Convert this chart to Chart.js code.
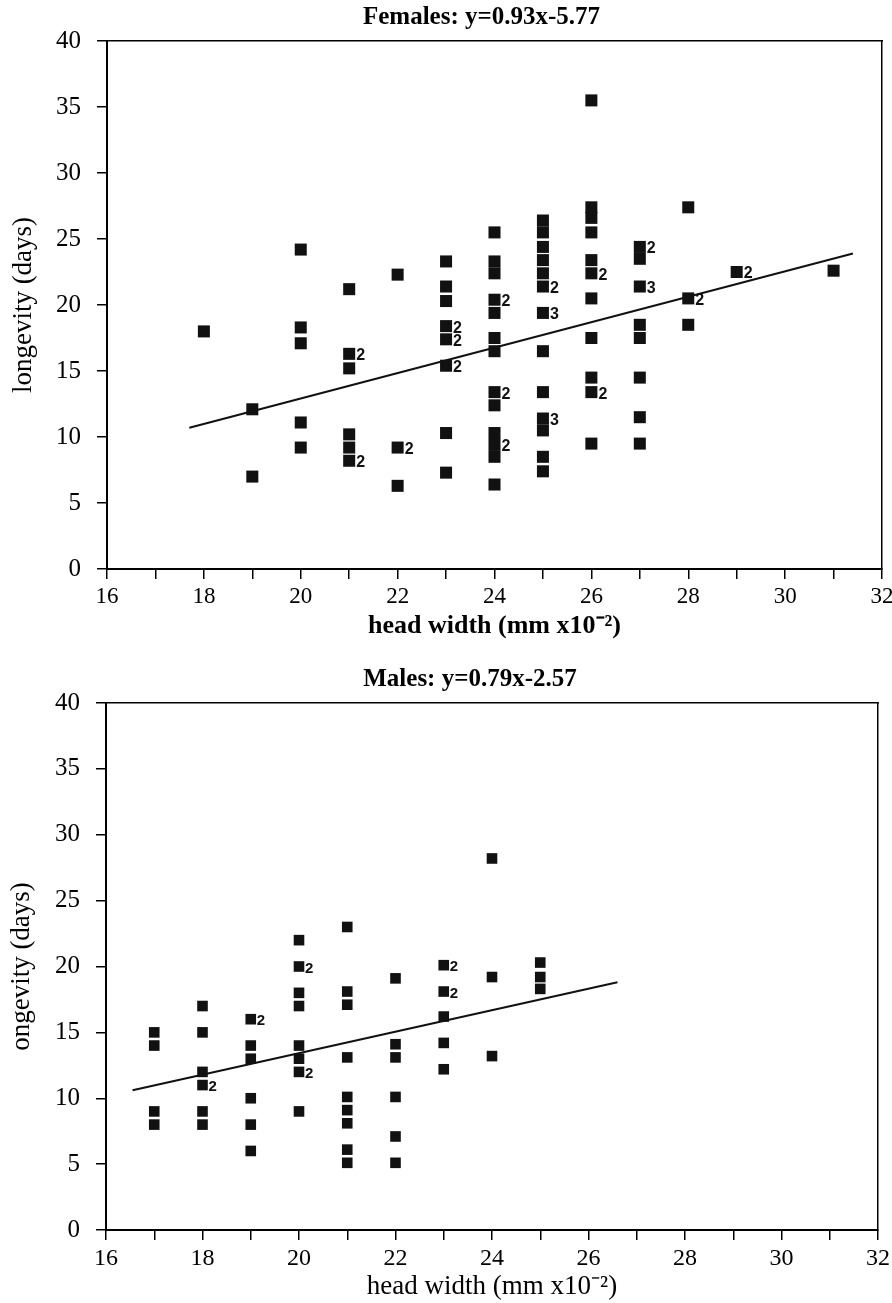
<!DOCTYPE html>
<html>
<head>
<meta charset="utf-8">
<script src="https://cdn.jsdelivr.net/npm/chart.js@4.4.1/dist/chart.umd.min.js"></script>
<style>
  html, body { margin: 0; padding: 0; background: #fff; overflow: hidden; width: 892px; height: 1303px; }
  canvas { position: absolute; left: 0; }
  #female { top: 0; }
  #male { top: 640px; }
</style>
</head>
<body>
<canvas id="female" width="963" height="650"></canvas>
<canvas id="male" width="940" height="663"></canvas>
<script>
// ---------- DATA ----------
const xTickValues = [16, 18, 20, 22, 24, 26, 28, 30, 32];
const yTickValues = [0, 5, 10, 15, 20, 25, 30, 35, 40];

const femaleTitle = 'Females: y=0.93x-5.77';
const femaleHeadWidth = [
  18,
  19, 19,
  20, 20, 20, 20, 20,
  21, 21, 21, 21, 21, 21,
  22, 22, 22,
  23, 23, 23, 23, 23, 23, 23, 23,
  24, 24, 24, 24, 24, 24, 24, 24, 24, 24, 24, 24, 24,
  25, 25, 25, 25, 25, 25, 25, 25, 25, 25, 25, 25, 25,
  26, 26, 26, 26, 26, 26, 26, 26, 26, 26, 26,
  27, 27, 27, 27, 27, 27, 27, 27,
  28, 28, 28,
  29,
  31
];
const femaleLongevity = [
  18.0,
  12.1, 7.0,
  24.2, 18.3, 17.1, 11.1, 9.2,
  21.2, 16.3, 15.2, 10.2, 9.2, 8.2,
  22.3, 9.2, 6.3,
  23.3, 21.4, 20.3, 18.4, 17.4, 15.4, 10.3, 7.3,
  25.5, 23.3, 22.4, 20.4, 19.4, 17.5, 16.5, 13.4, 12.4, 10.3, 9.4, 8.5, 6.4,
  26.4, 25.5, 24.4, 23.4, 22.4, 21.4, 19.4, 16.5, 13.4, 11.4, 10.5, 8.5, 7.4,
  35.5, 27.4, 26.6, 25.5, 23.4, 22.4, 20.5, 17.5, 14.5, 13.4, 9.5,
  24.4, 23.5, 21.4, 18.5, 17.5, 14.5, 11.5, 9.5,
  27.4, 20.5, 18.5,
  22.5,
  22.6
];
const femaleCount = [
  1,
  1, 1,
  1, 1, 1, 1, 1,
  1, 2, 1, 1, 1, 2,
  1, 2, 1,
  1, 1, 1, 2, 2, 2, 1, 1,
  1, 1, 1, 2, 1, 1, 1, 2, 1, 1, 2, 1, 1,
  1, 1, 1, 1, 1, 2, 3, 1, 1, 3, 1, 1, 1,
  1, 1, 1, 1, 1, 2, 1, 1, 1, 2, 1,
  2, 1, 3, 1, 1, 1, 1, 1,
  1, 2, 1,
  2,
  1
];
const femaleFitX = [17.7, 31.4];
const femaleFitY = [10.7, 23.9];

const maleTitle = 'Males: y=0.79x-2.57';
const maleHeadWidth = [
  17, 17, 17, 17,
  18, 18, 18, 18, 18, 18,
  19, 19, 19, 19, 19, 19,
  20, 20, 20, 20, 20, 20, 20, 20,
  21, 21, 21, 21, 21, 21, 21, 21, 21,
  22, 22, 22, 22, 22, 22,
  23, 23, 23, 23, 23,
  24, 24, 24,
  25, 25, 25
];
const maleLongevity = [
  15, 14, 9, 8,
  17, 15, 12, 11, 9, 8,
  16, 14, 13, 10, 8, 6,
  22, 20, 18, 17, 14, 13, 12, 9,
  23, 18.1, 17.1, 13.1, 10.1, 9.1, 8.1, 6.1, 5.1,
  19.1, 14.1, 13.1, 10.1, 7.1, 5.1,
  20.1, 18.1, 16.2, 14.2, 12.2,
  28.2, 19.2, 13.2,
  20.3, 19.2, 18.3
];
const maleCount = [
  1, 1, 1, 1,
  1, 1, 1, 2, 1, 1,
  2, 1, 1, 1, 1, 1,
  1, 2, 1, 1, 1, 1, 2, 1,
  1, 1, 1, 1, 1, 1, 1, 1, 1,
  1, 1, 1, 1, 1, 1,
  2, 2, 1, 1, 1,
  1, 1, 1,
  1, 1, 1
];
const maleFitX = [16.55, 26.6];
const maleFitY = [10.6, 18.8];

// ---------- BUILD ----------
const SERIF = '"Liberation Serif", "Times New Roman", serif';
const SANS = '"Liberation Sans", Arial, sans-serif';

function pts(xs, ys) { return xs.map((x, i) => ({ x: x, y: ys[i] })); }

const countLabels = {
  id: 'countLabels',
  afterDatasetsDraw(chart, args, opts) {
    const ctx = chart.ctx;
    chart.data.datasets.forEach((ds, di) => {
      if (!ds.counts) return;
      const meta = chart.getDatasetMeta(di);
      ctx.save();
      ctx.fillStyle = '#111';
      ctx.font = 'bold ' + opts.size + 'px ' + SANS;
      ctx.textAlign = 'left';
      ctx.textBaseline = 'middle';
      meta.data.forEach((el, i) => {
        const n = ds.counts[i];
        if (n > 1) ctx.fillText(String(n), el.x + opts.dx, el.y + opts.dy);
      });
      ctx.restore();
    });
  }
};

function makeChart(id, cfg) {
  const axisFont = { family: SERIF, size: cfg.tickSize };
  return new Chart(document.getElementById(id), {
    type: 'scatter',
    data: {
      datasets: [
        {
          data: pts(cfg.x, cfg.y),
          counts: cfg.n,
          pointStyle: 'rect',
          pointRadius: cfg.pointR,
          pointHoverRadius: cfg.pointR,
          backgroundColor: '#111',
          borderWidth: 0
        },
        {
          data: pts(cfg.fitX, cfg.fitY),
          showLine: true,
          pointRadius: 0,
          borderColor: '#111',
          borderWidth: 2,
          fill: false
        }
      ]
    },
    plugins: [countLabels],
    options: {
      responsive: false,
      animation: false,
      devicePixelRatio: 1,
      layout: { padding: 0 },
      plugins: {
        legend: { display: false },
        tooltip: { enabled: false },
        title: {
          display: true,
          text: cfg.title,
          color: '#000',
          font: { family: SERIF, size: 25, weight: 'bold', lineHeight: 1.2 },
          padding: { top: cfg.titleTop, bottom: cfg.titleBottom }
        },
        countLabels: { size: cfg.labelSize, dx: cfg.labelDx, dy: 2 }
      },
      scales: {
        x: {
          type: 'linear', position: 'bottom', min: 16, max: 32,
          afterFit: s => { s.height = cfg.xAxisH; },
          ticks: {
            stepSize: 1, color: '#000', font: Object.assign({}, axisFont, { size: cfg.xTickSize, weight: cfg.xTickWeight }),
            padding: 4, maxRotation: 0, autoSkip: false,
            callback: v => xTickValues.includes(v) ? String(v) : ''
          },
          grid: { display: true, drawOnChartArea: false, drawTicks: true, tickLength: 10, color: '#000', lineWidth: 1.5 },
          border: { display: true, color: '#000', width: 2 },
          title: {
            display: true, text: 'head width (mm x10\u207B\u00B2)', color: '#000',
            font: { family: SERIF, size: cfg.xTitleSize, weight: cfg.xTitleWeight, lineHeight: 1.2 },
            padding: { top: 0, bottom: cfg.xTitlePad }
          }
        },
        xTop: {
          type: 'linear', position: 'top', min: 16, max: 32,
          afterFit: s => { s.height = 0; },
          ticks: { display: false },
          grid: { display: false },
          border: { display: true, color: '#000', width: 1.5 }
        },
        y: {
          type: 'linear', position: 'left', min: 0, max: 40,
          afterFit: s => { s.width = cfg.yAxisW; },
          ticks: {
            stepSize: 5, color: '#000', font: axisFont, padding: 16,
            callback: v => yTickValues.includes(v) ? String(v) : ''
          },
          grid: { display: true, drawOnChartArea: false, drawTicks: true, tickLength: 10, color: '#000', lineWidth: 1.5 },
          border: { display: true, color: '#000', width: 2 },
          title: {
            display: true, text: cfg.yTitle, color: '#000',
            font: { family: SERIF, size: 27, lineHeight: 1.2 },
            padding: { top: cfg.yTitlePad, bottom: 0 }
          }
        },
        yRight: {
          type: 'linear', position: 'right', min: 0, max: 40,
          afterFit: s => { s.width = cfg.rightW; },
          ticks: { display: false },
          grid: { display: false },
          border: { display: true, color: '#000', width: 1.5 }
        }
      }
    }
  });
}

makeChart('female', {
  title: femaleTitle, x: femaleHeadWidth, y: femaleLongevity, n: femaleCount,
  fitX: femaleFitX, fitY: femaleFitY,
  titleTop: 3, titleBottom: 8,
  yAxisW: 107, rightW: 81, xAxisH: 81,
  tickSize: 25, xTickSize: 23, xTickWeight: 'normal',
  xTitleSize: 26, xTitleWeight: 'bold', xTitlePad: 8,
  yTitle: 'longevity (days)', yTitlePad: 8,
  pointR: 8.5, labelSize: 16, labelDx: 7
});

makeChart('male', {
  title: maleTitle, x: maleHeadWidth, y: maleLongevity, n: maleCount,
  fitX: maleFitX, fitY: maleFitY,
  titleTop: 25, titleBottom: 8,
  yAxisW: 106, rightW: 62, xAxisH: 73,
  tickSize: 25, xTickSize: 24, xTickWeight: 'normal',
  xTitleSize: 27, xTitleWeight: 'normal', xTitlePad: 0,
  yTitle: 'ongevity (days)', yTitlePad: 6,
  pointR: 7.5, labelSize: 15, labelDx: 6
});
</script>
</body>
</html>
